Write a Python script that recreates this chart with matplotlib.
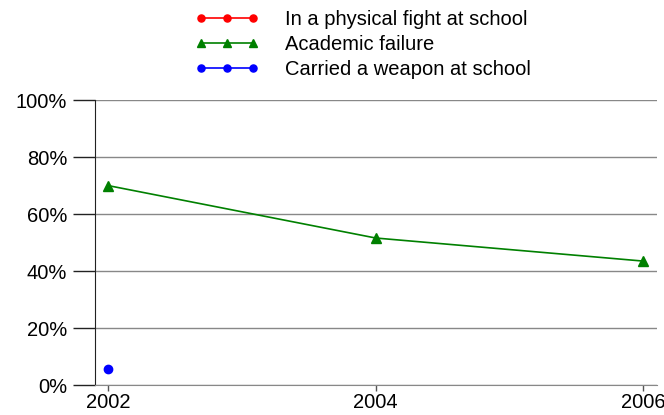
import numpy as np
import matplotlib.pyplot as plt
from matplotlib.ticker import PercentFormatter

plt.rcParams['font.family'] = ['Liberation Sans', 'DejaVu Sans']

# data
years = [2002, 2004, 2006]
fight = [np.nan, np.nan, np.nan]
academic = [70.0, 51.6, 43.5]
weapon = [5.8, np.nan, np.nan]
yticks = [0, 20, 40, 60, 80, 100]

fig = plt.figure(figsize=(6.64, 4.15), dpi=100)
ax = fig.add_axes([0.143, 0.072, 0.846, 0.687])

ax.plot(years, fight, color='red', marker='o', markersize=6, lw=1.2,
        label='In a physical fight at school')
ax.plot(years, academic, color='green', marker='^', markersize=7, lw=1.2,
        label='Academic failure')
ax.plot(years, weapon, color='blue', marker='o', markersize=6, lw=1.2,
        label='Carried a weapon at school')

ax.set_xlim(2001.903, 2006.1)
ax.set_ylim(0, 100)
ax.set_xticks(years)
ax.set_yticks(yticks)
ax.yaxis.set_major_formatter(PercentFormatter(decimals=0))
ax.grid(axis='y', color='#888888', lw=1)
ax.set_axisbelow(True)

for s in ['top', 'right']:
    ax.spines[s].set_visible(False)
ax.spines['left'].set_color('#222222')
ax.spines['bottom'].set_color('#888888')
ax.tick_params(axis='y', length=16, width=1, color='#222222', labelsize=14.5, pad=4)
ax.tick_params(axis='x', length=4, width=1, color='#555555', labelsize=14.5, pad=2)

leg = fig.legend(loc='upper left', bbox_to_anchor=(0.278, 1.0), frameon=False,
                 numpoints=3, fontsize=14.5, handlelength=3.2, handletextpad=1.3,
                 labelspacing=0.3, borderaxespad=0.1, markerscale=0.85)

fig.savefig('out.png', dpi=100)
